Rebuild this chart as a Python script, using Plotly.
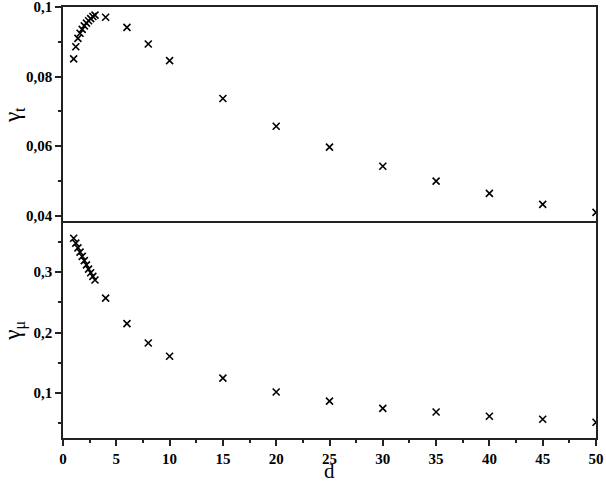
import plotly.graph_objects as go
from plotly.subplots import make_subplots

# distance values (shared by both panels)
d = [1.0, 1.2, 1.4, 1.6, 1.8, 2.0, 2.2, 2.4, 2.6, 2.8, 3.0,
     4, 6, 8, 10, 15, 20, 25, 30, 35, 40, 45, 50]

# top panel: gamma_t
gamma_t = [0.0851, 0.0886, 0.0910, 0.0925, 0.0936, 0.0946, 0.0954, 0.0961, 0.0967, 0.0973, 0.0977,
           0.0971, 0.0942, 0.0894, 0.0846, 0.0737, 0.0657, 0.0597, 0.0542, 0.0499, 0.0464, 0.0432, 0.0409]

# bottom panel: gamma_mu
gamma_mu = [0.356, 0.348, 0.340, 0.333, 0.326, 0.319, 0.312, 0.305, 0.299, 0.293, 0.287,
            0.257, 0.215, 0.183, 0.161, 0.125, 0.102, 0.087, 0.075, 0.069, 0.062, 0.057, 0.052]

serif = "Liberation Serif"
axis_line = dict(showline=True, linecolor="#222", linewidth=1.5,
                 showgrid=False, zeroline=False, automargin=False)
tick_font = dict(family=serif, size=15, color="black", weight="bold")
title_font = dict(family=serif, size=23, color="black")

fig = make_subplots(rows=2, cols=1, shared_xaxes=True, vertical_spacing=0)

marker = dict(symbol="x-thin", size=7, color="black", line=dict(width=1.6, color="black"))
fig.add_trace(go.Scatter(x=d, y=gamma_t, mode="markers", marker=marker), row=1, col=1)
fig.add_trace(go.Scatter(x=d, y=gamma_mu, mode="markers", marker=marker), row=2, col=1)

fig.update_xaxes(axis_line, range=[0, 50])
# top panel: only the upper frame line, the divider comes from the lower panel
fig.update_xaxes(ticks="", showticklabels=False, side="top", mirror=False, row=1, col=1)
fig.update_xaxes(mirror=True, ticks="outside", ticklen=6, tickwidth=1.5, tickcolor="#222", dtick=5, tick0=0,
                 minor=dict(ticks="outside", ticklen=3, dtick=2.5, tickcolor="#222", tickwidth=1.5),
                 tickfont=tick_font, ticklabeloverflow="allow", row=2, col=1)

fig.update_yaxes(axis_line, mirror=True, ticks="outside", ticklen=6, tickwidth=1.5, tickcolor="#222",
                 tickfont=tick_font, ticklabeloverflow="allow")
fig.update_yaxes(range=[0.038, 0.10005], dtick=0.02, tick0=0,
                 minor=dict(ticks="outside", ticklen=3, dtick=0.01, tickcolor="#222", tickwidth=1.5),
                 title=dict(text="γ<sub>t</sub>", font=title_font, standoff=8),
                 row=1, col=1)
fig.update_yaxes(range=[0.026, 0.382], dtick=0.1, tick0=0,
                 minor=dict(ticks="outside", ticklen=3, dtick=0.05, tickcolor="#222", tickwidth=1.5),
                 title=dict(text="γ<sub>μ</sub>", font=title_font, standoff=8),
                 row=2, col=1)

fig.add_annotation(text="d", xref="paper", yref="paper", x=0.5, y=-0.077,
                   xanchor="center", yanchor="middle", showarrow=False, borderpad=0,
                   font=dict(family=serif, size=21, color="black"))

fig.update_layout(width=606, height=482, showlegend=False, separators=", ",
                  plot_bgcolor="white", paper_bgcolor="white",
                  margin=dict(l=63, r=10, t=7, b=44))

fig.write_html("out.html", config={"displayModeBar": False},
               post_script="document.body.style.margin = '0';")
